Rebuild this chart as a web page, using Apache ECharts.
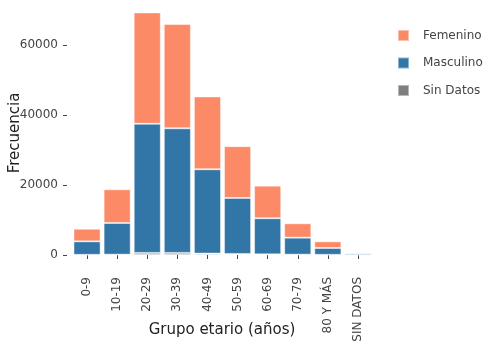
<!DOCTYPE html>
<html><head><meta charset="utf-8">
<script src="https://cdn.jsdelivr.net/npm/echarts@6/dist/echarts.min.js"></script>
<style>html,body{margin:0;padding:0;background:#fff}#c{width:500px;height:357px}</style>
</head><body><div id="c"></div>
<script>
const categories = ['0-9','10-19','20-29','30-39','40-49','50-59','60-69','70-79','80 Y MÁS','SIN DATOS'];
const sinDatos   = [50, 100, 600, 600, 400, 300, 200, 100, 50, 30];
const masculino  = [3850, 9040, 36900, 35600, 24100, 16000, 10300, 4850, 1950, 450];
const femenino   = [3600, 9630, 31800, 29800, 20800, 14800, 9300, 4100, 1900, 40];
const yTicks = [0, 20000, 40000, 60000];

const chart = echarts.init(document.getElementById('c'), null, {renderer:'canvas'});
const ff = '"DejaVu Sans", Verdana, sans-serif';
const border = {borderColor:'rgba(255,255,255,0.45)', borderWidth:1};
chart.setOption({
  animation:false,
  textStyle:{fontFamily:ff},
  grid:{left:72, right:127, top:10, bottom:102},
  legend:{
    data:['Femenino','Masculino','Sin Datos'],
    orient:'vertical', left:392, top:24, itemWidth:11, itemHeight:11, itemGap:14.5,
    icon:'rect',
    textStyle:{fontSize:12, color:'#444', fontFamily:ff, padding:[0,0,0,9]}
  },
  xAxis:{
    type:'category', data:categories, offset:13,
    axisLine:{show:false},
    axisTick:{show:true, alignWithLabel:true, length:4, lineStyle:{color:'#444'}},
    axisLabel:{rotate:90, fontSize:12, color:'#444', margin:9, interval:0, fontFamily:ff}
  },
  yAxis:{
    type:'value', min:0, max:70000, interval:20000, offset:5,
    splitLine:{show:false},
    axisLine:{show:false},
    axisTick:{show:true, length:4, lineStyle:{color:'#444'}},
    axisLabel:{fontSize:12, color:'#444', margin:9, showMaxLabel:false, fontFamily:ff,
      formatter:v => yTicks.includes(v) ? String(v) : ''}
  },
  graphic:[
    {type:'text', x:222, y:330, style:{text:'Grupo etario (años)', fontSize:15, fill:'#222', fontFamily:ff, textAlign:'center', textVerticalAlign:'middle'}},
    {type:'text', rotation:Math.PI/2, x:15, y:133, style:{text:'Frecuencia', fontSize:15, fill:'#222', fontFamily:ff, textAlign:'center', textVerticalAlign:'middle'}}
  ],
  series:[
    {name:'Sin Datos', type:'bar', stack:'a', data:sinDatos, barCategoryGap:'10%', itemStyle:Object.assign({color:'#7f7f7f'}, border)},
    {name:'Masculino', type:'bar', stack:'a', data:masculino, barCategoryGap:'10%', itemStyle:Object.assign({color:'#3275a7'}, border)},
    {name:'Femenino', type:'bar', stack:'a', data:femenino, barCategoryGap:'10%', itemStyle:Object.assign({color:'#fc8a66'}, border)}
  ]
});
</script></body></html>
